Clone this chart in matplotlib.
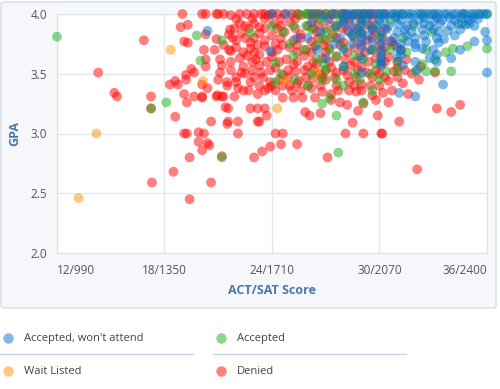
import numpy as np
import matplotlib
matplotlib.use("Agg")
import matplotlib.pyplot as plt
from matplotlib.patches import FancyBboxPatch
from matplotlib.lines import Line2D

# ACT score (x) and GPA (y) for each applicant
denied = [
    (14.3, 3.51), (15.2, 3.34), (15.35, 3.31), (16.85, 3.78), (17.25, 3.31), (17.25, 3.21),
    (17.3, 2.59), (18.5, 2.68), (19.4, 2.45), (19.4, 2.80), (20.6, 2.59), (18.6, 3.14),
    (19.1, 3.0), (19.25, 3.0), (19.9, 3.01), (20.2, 3.0), (19.9, 2.93), (20.4, 2.92),
    (20.5, 2.90), (20.1, 2.86), (21.2, 2.81), (19.25, 3.26), (20.1, 3.31), (20.9, 3.31),
    (21.3, 3.31), (21.4, 3.22), (20.6, 3.10), (21.5, 3.08), (22.1, 3.0), (21.55, 3.10),
    (22.1, 3.10), (23.2, 3.10), (23.3, 3.10), (23.7, 3.15), (22.8, 3.21), (23.2, 3.21),
    (23.6, 3.21), (21.55, 3.21), (24.6, 3.30), (25.2, 3.30), (25.7, 3.30), (26.4, 3.30),
    (25.85, 3.18), (26.1, 3.15), (26.7, 3.17), (24.2, 3.0), (24.6, 3.0), (23.0, 2.80),
    (23.45, 2.85), (23.9, 2.89), (24.5, 2.91), (25.4, 2.91), (27.1, 2.80), (28.1, 3.0),
    (29.1, 3.0), (30.1, 3.0), (30.15, 3.0), (28.5, 3.09), (29.9, 3.15), (31.1, 3.10),
    (33.2, 3.21), (34.0, 3.18), (34.5, 3.24), (32.1, 2.70),
    (19.0, 4.0), (20.1, 4.0), (20.3, 4.0), (20.9, 4.0), (21.7, 3.99), (22.2, 4.0), (22.6, 4.0),
    (18.9, 3.89), (19.3, 3.91), (19.1, 3.77), (19.3, 3.76), (20.3, 3.83), (20.9, 3.79),
    (21.6, 3.83), (21.65, 3.87), (20.2, 3.70), (20.8, 3.70), (21.6, 3.70), (21.7, 3.69),
    (19.5, 3.54), (20.3, 3.56), (20.3, 3.62), (21.1, 3.62), (21.2, 3.57), (19.2, 3.49),
    (18.6, 3.44), (18.3, 3.41), (18.75, 3.41), (19.2, 3.45), (19.65, 3.51), (20.1, 3.41),
    (20.4, 3.38), (21.0, 3.45), (21.1, 3.51), (21.5, 3.43), (22.0, 3.43), (22.3, 3.51),
    (22.8, 3.43), (19.1, 3.33), (19.65, 3.31), (20.1, 3.30), (20.95, 3.32), (21.2, 3.31),
    (21.9, 3.31), (22.4, 3.36), (21.5, 3.40), (22.1, 3.38), (22.7, 3.36), (23.2, 3.33),
    (23.8, 3.38), (24.6, 3.40), (25.1, 3.36), (25.4, 3.42), (26.2, 3.38), (26.8, 3.35),
    (23.0, 4.0), (23.4, 4.0), (23.8, 3.99), (24.3, 4.0), (25.1, 4.0), (25.6, 3.99),
    (26.2, 4.0), (26.7, 4.0), (27.3, 4.0), (27.9, 4.0), (28.5, 3.99), (29.1, 4.0), (29.7, 4.0),
    (22.2, 3.92), (22.5, 3.90), (23.0, 3.92), (23.3, 3.89), (24.1, 3.92), (24.5, 3.90),
    (25.0, 3.93), (26.0, 3.90), (26.6, 3.92), (27.5, 3.90), (28.3, 3.93), (29.3, 3.91),
    (22.3, 3.84), (23.3, 3.84), (24.0, 3.82), (24.7, 3.85), (25.6, 3.83), (26.5, 3.85),
    (27.4, 3.83), (28.2, 3.86), (29.0, 3.84), (29.8, 3.85), (22.0, 3.78), (22.8, 3.76),
    (23.6, 3.78), (24.2, 3.75), (25.2, 3.78), (26.2, 3.77), (27.0, 3.78), (28.0, 3.76),
    (29.3, 3.78), (30.7, 3.77), (22.0, 3.72), (22.8, 3.71), (23.6, 3.73), (24.3, 3.70),
    (25.0, 3.72), (25.9, 3.70), (26.4, 3.73), (27.2, 3.71), (28.6, 3.72), (29.6, 3.70),
    (30.3, 3.72), (31.2, 3.70), (22.2, 3.63), (22.6, 3.65), (23.1, 3.62), (23.3, 3.66),
    (24.0, 3.64), (24.8, 3.62), (25.8, 3.65), (26.8, 3.63), (27.6, 3.64), (28.1, 3.62),
    (28.9, 3.65), (29.8, 3.63), (30.5, 3.64), (31.5, 3.62), (22.4, 3.56), (23.3, 3.57),
    (24.2, 3.55), (25.2, 3.58), (26.0, 3.56), (26.5, 3.58), (27.3, 3.55), (28.4, 3.57),
    (29.0, 3.56), (30.1, 3.58), (31.0, 3.55), (32.3, 3.56), (22.5, 3.50), (23.4, 3.51),
    (24.6, 3.49), (25.3, 3.52), (26.7, 3.50), (27.6, 3.51), (28.2, 3.49), (29.3, 3.51),
    (30.0, 3.50), (30.8, 3.52), (31.8, 3.50), (33.1, 3.51), (23.9, 3.43), (24.4, 3.45),
    (25.5, 3.44), (26.3, 3.46), (27.0, 3.45), (28.3, 3.43), (29.0, 3.41), (30.5, 3.44),
    (31.3, 3.42), (32.2, 3.45), (27.3, 3.33), (28.7, 3.35), (29.6, 3.32), (30.2, 3.34),
    (31.6, 3.33), (27.8, 3.26), (28.2, 3.24), (29.1, 3.25), (30.5, 3.26), (28.8, 3.19),
    (21.3, 4.0), (21.0, 4.0), (23.6, 4.0), (24.0, 4.0), (24.7, 4.0), (25.4, 4.0),
    (26.0, 4.0), (26.5, 4.0), (27.0, 4.0), (27.6, 4.0), (28.2, 4.0), (28.8, 4.0),
    (29.4, 4.0), (30.3, 4.0), (22.0, 3.96), (22.9, 3.96), (23.6, 3.96), (24.5, 3.96),
    (25.3, 3.96), (26.3, 3.96), (27.2, 3.96), (28.0, 3.96), (28.9, 3.96), (29.6, 3.96),
    (21.9, 3.88), (22.7, 3.88), (23.6, 3.88), (24.3, 3.88), (25.3, 3.88), (26.3, 3.88),
    (27.0, 3.88), (27.9, 3.88), (28.7, 3.88), (29.6, 3.88), (30.3, 3.88), (21.8, 3.80),
    (22.5, 3.80), (23.0, 3.80), (24.5, 3.80), (25.6, 3.80), (26.6, 3.80), (27.6, 3.80),
    (28.6, 3.80), (29.6, 3.80), (30.2, 3.80), (21.3, 3.74), (23.2, 3.74), (24.6, 3.74),
    (25.4, 3.74), (26.9, 3.74), (27.8, 3.74), (29.0, 3.74), (30.0, 3.74), (30.8, 3.74),
    (22.4, 3.68), (23.0, 3.68), (24.0, 3.68), (25.4, 3.68), (26.2, 3.68), (27.0, 3.68),
    (28.2, 3.68), (29.2, 3.68), (30.1, 3.68), (21.7, 3.60), (22.9, 3.60), (23.7, 3.60),
    (24.4, 3.60), (25.4, 3.60), (26.3, 3.60), (27.2, 3.60), (28.6, 3.60), (29.4, 3.60),
    (30.3, 3.60), (31.0, 3.60), (21.7, 3.53), (22.9, 3.53), (23.9, 3.53), (24.9, 3.53),
    (25.8, 3.53), (26.3, 3.53), (27.0, 3.53), (28.0, 3.53), (28.8, 3.53), (29.8, 3.53),
    (31.4, 3.53), (22.0, 3.47), (23.0, 3.47), (23.5, 3.47), (24.9, 3.47), (25.9, 3.47),
    (26.8, 3.47), (27.5, 3.47), (28.7, 3.47), (29.6, 3.47), (30.3, 3.47), (31.0, 3.47),
    (23.3, 3.40), (24.0, 3.40), (25.0, 3.40), (26.0, 3.40), (26.7, 3.40), (27.6, 3.40),
    (28.6, 3.40), (29.5, 3.40), (30.0, 3.40), (23.6, 3.36), (24.2, 3.36), (25.6, 3.36),
    (27.7, 3.36), (28.3, 3.36), (29.0, 3.36), (30.7, 3.36), (27.3, 3.28), (29.8, 3.28),
]

accepted = [
    (12.0, 3.81), (17.25, 3.21), (18.1, 3.26), (21.2, 2.80), (27.7, 2.84), (19.8, 3.82),
    (21.2, 3.78), (20.0, 3.61), (22.8, 3.84), (24.2, 3.59), (24.2, 3.43), (24.5, 3.50),
    (26.8, 3.25), (27.6, 3.15), (25.5, 4.0), (25.9, 4.0), (27.0, 4.0), (28.6, 4.0),
    (29.2, 4.0), (30.9, 4.0), (31.3, 4.0), (32.4, 4.0), (34.7, 4.0), (36.0, 4.0),
    (25.9, 3.90), (26.2, 3.87), (27.5, 3.88), (28.5, 3.82), (30.0, 3.82), (34.6, 3.92),
    (29.0, 3.92), (25.0, 3.75), (26.5, 3.74), (28.0, 3.72), (29.6, 3.70), (31.5, 3.68),
    (33.7, 3.68), (34.1, 3.71), (34.9, 3.73), (36.0, 3.71), (27.2, 3.70), (25.2, 3.65),
    (26.5, 3.62), (28.0, 3.56), (29.1, 3.62), (31.0, 3.60), (33.1, 3.62), (27.0, 3.53),
    (30.4, 3.52), (31.0, 3.52), (32.0, 3.52), (32.6, 3.52), (33.1, 3.52), (34.0, 3.52),
    (25.3, 3.45), (26.2, 3.50), (29.6, 3.36), (29.1, 3.26), (28.0, 3.40), (30.0, 3.45),
    (27.2, 3.30), (26.0, 4.0), (26.5, 4.0), (27.5, 4.0), (28.0, 4.0), (30.0, 4.0),
    (33.0, 4.0), (35.5, 4.0), (26.7, 3.95), (27.8, 3.95), (30.6, 3.95), (24.0, 3.90),
    (25.2, 3.90), (29.8, 3.90), (31.9, 3.90), (24.6, 3.85), (27.0, 3.85), (28.9, 3.85),
    (32.9, 3.85), (26.8, 3.80), (27.3, 3.80), (31.3, 3.80), (25.8, 3.70), (30.6, 3.70),
    (32.6, 3.70), (27.6, 3.65), (28.6, 3.65), (26.9, 3.58), (29.8, 3.58), (32.4, 3.58),
    (28.6, 3.50), (29.5, 3.50), (26.8, 3.45), (27.6, 3.45), (28.9, 3.45), (26.0, 3.40),
]

accepted_wont_attend = [
    (20.4, 3.86), (23.9, 3.69), (25.4, 3.80), (24.0, 4.0), (24.8, 4.0), (26.3, 4.0),
    (26.8, 3.99), (27.4, 4.0), (27.9, 4.0), (28.4, 4.0), (28.9, 4.0), (29.4, 4.0),
    (29.9, 4.0), (30.3, 4.0), (30.8, 4.0), (31.3, 4.0), (31.8, 4.0), (32.3, 4.0),
    (32.8, 4.0), (33.3, 4.0), (33.8, 4.0), (34.3, 4.0), (34.8, 4.0), (35.3, 4.0),
    (35.8, 4.0), (36.0, 4.0), (26.2, 3.93), (27.1, 3.95), (28.0, 3.94), (29.0, 3.95),
    (30.0, 3.95), (31.2, 3.95), (32.2, 3.95), (33.0, 3.94), (33.5, 3.95), (34.2, 3.95),
    (35.0, 3.95), (35.5, 3.96), (27.6, 3.90), (28.5, 3.90), (29.5, 3.90), (30.5, 3.90),
    (31.5, 3.90), (32.8, 3.90), (34.0, 3.90), (34.8, 3.91), (35.3, 3.90), (35.9, 3.85),
    (26.7, 3.85), (28.3, 3.85), (29.0, 3.85), (30.1, 3.85), (31.0, 3.85), (31.8, 3.85),
    (33.3, 3.85), (33.8, 3.86), (26.0, 3.80), (27.8, 3.80), (29.0, 3.80), (30.1, 3.80),
    (30.8, 3.80), (32.0, 3.80), (33.2, 3.80), (33.6, 3.79), (35.3, 3.77), (27.5, 3.75),
    (28.5, 3.75), (30.1, 3.75), (31.2, 3.75), (32.0, 3.75), (32.4, 3.71), (33.3, 3.76),
    (36.0, 3.78), (26.5, 3.70), (28.0, 3.70), (29.5, 3.70), (30.1, 3.70), (31.2, 3.70),
    (33.0, 3.70), (34.5, 3.70), (27.0, 3.63), (29.0, 3.63), (30.1, 3.63), (31.0, 3.64),
    (32.8, 3.63), (34.0, 3.63), (28.0, 3.56), (30.1, 3.57), (31.3, 3.57), (29.0, 3.51),
    (32.1, 3.53), (36.0, 3.51), (33.55, 3.41), (31.1, 3.34), (32.0, 3.31),
    (28.1, 4.0), (28.6, 4.0), (29.1, 4.0), (29.6, 4.0), (30.1, 4.0), (30.6, 4.0),
    (31.1, 4.0), (31.6, 4.0), (32.1, 4.0), (32.6, 4.0), (33.1, 4.0), (33.6, 4.0),
    (34.1, 4.0), (34.6, 4.0), (35.1, 4.0), (35.6, 4.0), (28.4, 3.97), (29.3, 3.97),
    (30.3, 3.97), (30.9, 3.97), (31.7, 3.97), (32.5, 3.97), (33.2, 3.97), (33.9, 3.97),
    (34.6, 3.97), (35.2, 3.97), (28.0, 3.92), (29.0, 3.92), (30.0, 3.92), (31.0, 3.92),
    (31.9, 3.92), (32.5, 3.92), (33.4, 3.92), (34.4, 3.92), (35.0, 3.92), (28.8, 3.87),
    (29.6, 3.87), (30.4, 3.87), (31.4, 3.87), (32.4, 3.87), (33.0, 3.87), (34.5, 3.87),
    (28.5, 3.82), (29.4, 3.82), (31.5, 3.82), (32.5, 3.82), (34.2, 3.82), (29.0, 3.77),
    (29.6, 3.77), (30.6, 3.77), (31.6, 3.77), (32.6, 3.77), (29.0, 3.72), (31.0, 3.72),
    (32.0, 3.72), (30.1, 3.66), (31.2, 3.66), (33.2, 3.66), (32.0, 3.60), (33.2, 3.60),
    (30.1, 3.60),
]

wait_listed = [
    (14.2, 3.0), (13.2, 2.46), (18.35, 3.70), (20.15, 3.44), (24.3, 3.21), (24.7, 3.44),
    (26.5, 3.51),
]

x_ticks = [12, 18, 24, 30, 36]
x_tick_labels = ["12/990", "18/1350", "24/1710", "30/2070", "36/2400"]
y_ticks = [2.0, 2.5, 3.0, 3.5, 4.0]

plt.rcParams['font.family'] = ['Open Sans', 'DejaVu Sans']

fig = plt.figure(figsize=(5, 3.89), dpi=100)

# grey panel behind the plot
panel = FancyBboxPatch((0.002, 1 - 308 / 389), 0.99, 306 / 389,
                       boxstyle="round,pad=0,rounding_size=0.006",
                       transform=fig.transFigure, fc="#f5f7fa", ec="#d5dde8", lw=1,
                       zorder=-5)
fig.add_artist(panel)

ax = fig.add_axes([57 / 500, 1 - 253 / 389, 430 / 500, 239 / 389])
ax.set_facecolor("white")

series = [
    (denied, (1.0, 0.0, 0.0)),
    (wait_listed, (1.0, 0.57, 0.0)),
    (accepted, (0.1, 0.69, 0.1)),
    (accepted_wont_attend, (0.02, 0.45, 0.80)),
]
for pts, col in series:
    arr = np.array(pts)
    ax.scatter(arr[:, 0], arr[:, 1], s=50, color=col, alpha=0.5,
               edgecolors="none", clip_on=False, zorder=3)

ax.set_xlim(12, 36)
ax.set_ylim(2.0, 4.0)
ax.set_xticks(x_ticks)
ax.set_xticklabels(x_tick_labels)
ax.set_yticks(y_ticks)
ax.set_yticklabels([f"{v:.1f}" for v in y_ticks])
ax.grid(True, color="#e3e8ef", lw=1)
ax.set_axisbelow(True)
for sp in ax.spines.values():
    sp.set_color("#dde3ea")
ax.tick_params(length=0, colors="#555555", labelsize=8.5)
ax.tick_params(axis="x", pad=8)
ax.tick_params(axis="y", pad=7)
labels = ax.get_xticklabels()
labels[0].set_ha("left")
labels[-1].set_ha("right")

fig.text(15 / 500, 1 - 133 / 389, "GPA", rotation=90, ha="center", va="center",
         fontsize=9, fontweight="bold", color="#4a78a8")
fig.text(272 / 500, 1 - 290 / 389, "ACT/SAT Score", ha="center", va="center",
         fontsize=9, fontweight="bold", color="#4a78a8")

# legend below the panel
legend_items = [
    ("Accepted, won't attend", (0.02, 0.45, 0.80), 8, 338),
    ("Accepted", (0.1, 0.69, 0.1), 221, 338),
    ("Wait Listed", (1.0, 0.57, 0.0), 8, 371),
    ("Denied", (1.0, 0.0, 0.0), 221, 371),
]
for name, col, px, py in legend_items:
    fig.add_artist(Line2D([px / 500], [1 - py / 389], marker="o", ms=7.5, color=col,
                          alpha=0.5, mec="none", ls="none", transform=fig.transFigure))
    fig.text((px + 16) / 500, 1 - py / 389, name, ha="left", va="center",
             fontsize=8, color="#444444")
for x0, x1 in [(0, 193), (213, 406)]:
    fig.add_artist(Line2D([x0 / 500, x1 / 500], [1 - 354 / 389] * 2, color="#c6d6e6",
                          lw=1, transform=fig.transFigure))

fig.savefig("out.png", dpi=100)
